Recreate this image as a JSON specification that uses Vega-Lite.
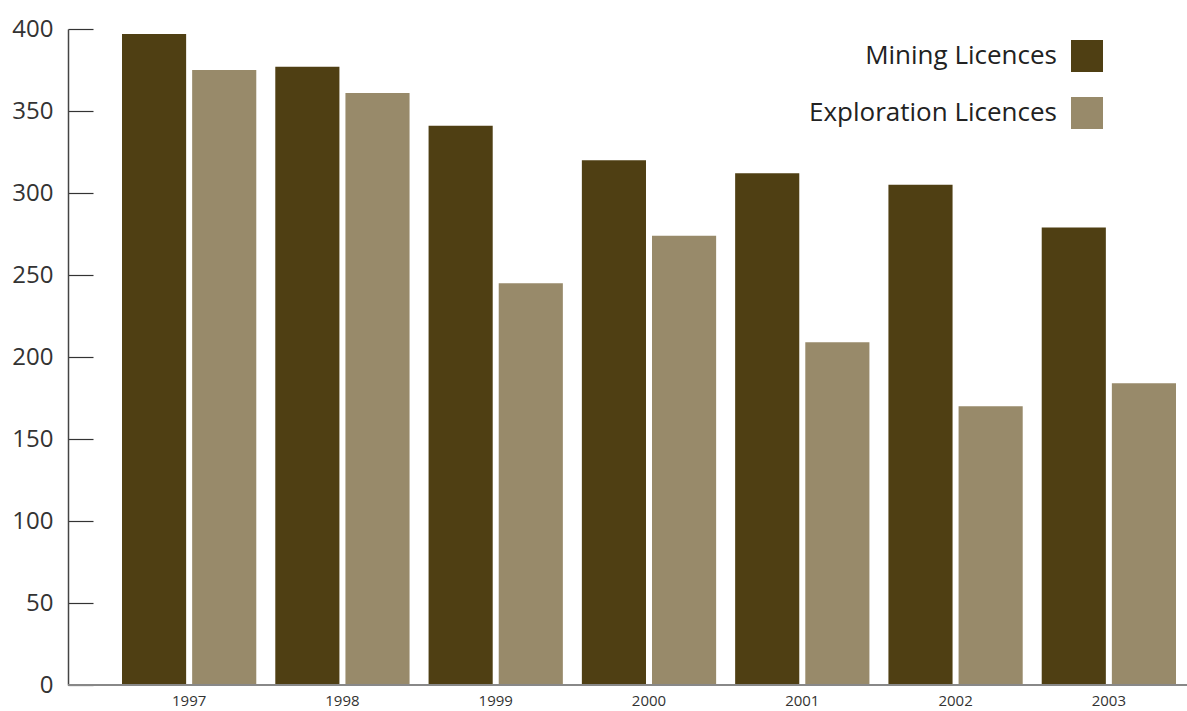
{
  "$schema": "https://vega.github.io/schema/vega-lite/v6.json",
  "width": 1119,
  "height": 656,
  "autosize": {"type": "none"},
  "padding": {"left": 68, "top": 29, "right": 0, "bottom": 26},
  "background": "white",
  "config": {
    "view": {"stroke": null},
    "font": "Open Sans",
    "legend": {"padding": 0}
  },
  "data": {
    "values": [
      {"year": "1997", "type": "Mining Licences", "value": 397},
      {"year": "1997", "type": "Exploration Licences", "value": 375},
      {"year": "1998", "type": "Mining Licences", "value": 377},
      {"year": "1998", "type": "Exploration Licences", "value": 361},
      {"year": "1999", "type": "Mining Licences", "value": 341},
      {"year": "1999", "type": "Exploration Licences", "value": 245},
      {"year": "2000", "type": "Mining Licences", "value": 320},
      {"year": "2000", "type": "Exploration Licences", "value": 274},
      {"year": "2001", "type": "Mining Licences", "value": 312},
      {"year": "2001", "type": "Exploration Licences", "value": 209},
      {"year": "2002", "type": "Mining Licences", "value": 305},
      {"year": "2002", "type": "Exploration Licences", "value": 170},
      {"year": "2003", "type": "Mining Licences", "value": 279},
      {"year": "2003", "type": "Exploration Licences", "value": 184}
    ]
  },
  "layer": [
    {
      "mark": {"type": "bar"},
      "encoding": {
        "x": {
          "field": "year",
          "type": "nominal",
          "scale": {"range": [44.5, 1117.5], "paddingInner": 0.124, "paddingOuter": 0.062},
          "axis": {
            "title": null,
            "labelAngle": 0,
            "ticks": false,
            "domain": false,
            "labelFontSize": 15,
            "labelColor": "#333333",
            "labelPadding": 8
          }
        },
        "xOffset": {
          "field": "type",
          "type": "nominal",
          "sort": ["Mining Licences", "Exploration Licences"],
          "scale": {"paddingInner": 0.0857, "paddingOuter": 0}
        },
        "y": {
          "field": "value",
          "type": "quantitative",
          "scale": {"domain": [0, 400], "nice": false},
          "axis": {
            "title": null,
            "values": [0, 50, 100, 150, 200, 250, 300, 350, 400],
            "grid": false,
            "domain": true,
            "tickSize": -25,
            "tickColor": "#333333",
            "tickWidth": 1.2,
            "domainColor": "#444444",
            "domainWidth": 1.5,
            "labelFontSize": 24,
            "labelColor": "#333333",
            "labelPadding": 40
          }
        },
        "color": {
          "field": "type",
          "type": "nominal",
          "sort": ["Mining Licences", "Exploration Licences"],
          "scale": {
            "domain": ["Mining Licences", "Exploration Licences"],
            "range": ["#4f3f13", "#988a6a"]
          },
          "legend": {
            "title": null,
            "orient": "none",
            "legendX": 1003,
            "legendY": 11,
            "direction": "vertical",
            "symbolType": "square",
            "symbolSize": 1024,
            "symbolStrokeWidth": 0,
            "symbolOpacity": 1,
            "labelFontSize": 26,
            "labelColor": "#222222",
            "labelAlign": "right",
            "labelOffset": -46,
            "labelLimit": 400,
            "rowPadding": 25
          }
        }
      }
    },
    {
      "mark": {"type": "rule", "color": "#888888", "strokeWidth": 1.5},
      "encoding": {"y": {"datum": 0}}
    }
  ]
}
